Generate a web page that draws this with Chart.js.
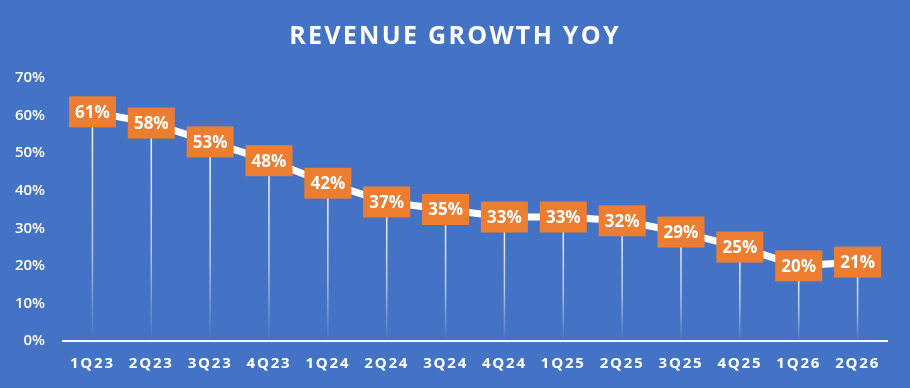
<!DOCTYPE html>
<html>
<head>
<meta charset="utf-8">
<script src="https://cdn.jsdelivr.net/npm/chart.js@4.4.1/dist/chart.umd.min.js"></script>
<style>
  html, body { margin: 0; padding: 0; background: #4472C4; }
  #wrap { width: 910px; height: 388px; }
</style>
</head>
<body>
<div id="wrap"><canvas id="chart"></canvas></div>
<script>
// quarters and yoy growth (%)
const quarters = ['1Q23', '2Q23', '3Q23', '4Q23', '1Q24', '2Q24', '3Q24', '4Q24', '1Q25', '2Q25', '3Q25', '4Q25', '1Q26', '2Q26'];
const growth = [61, 58, 53, 48, 42, 37, 35, 33, 33, 32, 29, 25, 20, 21];
const yTicks = [0, 10, 20, 30, 40, 50, 60, 70];

const BG = '#4472C4';
const ORANGE = '#ED7D31';
const FONT = "'Open Sans', sans-serif";

// fill background
const bgPlugin = {
  id: 'bg',
  beforeDraw(chart) {
    const ctx = chart.ctx;
    ctx.save();
    ctx.fillStyle = BG;
    ctx.fillRect(0, 0, chart.width, chart.height);
    ctx.restore();
  }
};

// wrap a drawing method so its text gets some letter spacing (and optional shift)
function spaced(obj, method, ctx, spacing, dx) {
  if (!obj || obj['_sp_' + method]) return;
  const orig = obj[method].bind(obj);
  obj[method] = (area) => {
    ctx.save();
    ctx.letterSpacing = spacing;
    if (dx) ctx.translate(dx, 0);
    orig(area);
    ctx.restore();
  };
  obj['_sp_' + method] = true;
}

const spacingPlugin = {
  id: 'spacing',
  afterLayout(chart) {
    // title box stops at the right padding, so nudge it back to page centre
    const shift = chart.width / 2 - (chart.titleBlock.left + chart.titleBlock.right) / 2;
    spaced(chart.titleBlock, 'draw', chart.ctx, '2.3px', shift);
    spaced(chart.scales.x, 'drawLabels', chart.ctx, '1.8px', 0);
  }
};

// fading white drop lines from each point to the axis
const dropLines = {
  id: 'dropLines',
  beforeDatasetsDraw(chart) {
    const ctx = chart.ctx;
    const meta = chart.getDatasetMeta(0);
    const y0 = chart.scales.y.getPixelForValue(0);
    ctx.save();
    meta.data.forEach(pt => {
      const g = ctx.createLinearGradient(0, pt.y, 0, y0);
      g.addColorStop(0, 'rgba(255,255,255,0.95)');
      g.addColorStop(0.6, 'rgba(255,255,255,0.6)');
      g.addColorStop(1, 'rgba(255,255,255,0)');
      ctx.strokeStyle = g;
      ctx.lineWidth = 1.5;
      ctx.beginPath();
      ctx.moveTo(pt.x, pt.y);
      ctx.lineTo(pt.x, y0);
      ctx.stroke();
    });
    ctx.restore();
  }
};

// orange value boxes
const valueBoxes = {
  id: 'valueBoxes',
  afterDatasetsDraw(chart) {
    const ctx = chart.ctx;
    const meta = chart.getDatasetMeta(0);
    ctx.save();
    ctx.font = 'bold 17px ' + FONT;
    ctx.textAlign = 'center';
    ctx.textBaseline = 'middle';
    meta.data.forEach((pt, i) => {
      const w = 47, h = 31;
      ctx.fillStyle = ORANGE;
      ctx.fillRect(pt.x - w / 2, pt.y - h / 2, w, h);
      ctx.fillStyle = '#fff';
      ctx.fillText(growth[i] + '%', pt.x, pt.y + 1);
    });
    ctx.restore();
  }
};

new Chart(document.getElementById('chart'), {
  type: 'line',
  data: {
    labels: quarters,
    datasets: [{
      data: growth,
      borderColor: '#fff',
      borderWidth: 7,
      pointRadius: 0,
      tension: 0
    }]
  },
  options: {
    responsive: true,
    maintainAspectRatio: false,
    animation: false,
    layout: { padding: { left: 0, right: 23, top: 0, bottom: 0 } },
    plugins: {
      legend: { display: false },
      tooltip: { enabled: false },
      title: {
        display: true,
        text: 'REVENUE GROWTH YOY',
        color: '#fff',
        font: { family: FONT, size: 25, weight: 'bold', lineHeight: 1.2 },
        padding: { top: 22, bottom: 26 }
      }
    },
    scales: {
      x: {
        offset: true,
        grid: { display: false, drawTicks: false },
        border: { display: true, color: '#fff', width: 2 },
        ticks: {
          color: '#fff',
          padding: 14,
          maxRotation: 0,
          font: { family: FONT, size: 15, weight: 'bold' }
        },
        afterFit(scale) { scale.height = 47; }
      },
      y: {
        min: 0,
        max: 70,
        afterBuildTicks(scale) { scale.ticks = yTicks.map(v => ({ value: v })); },
        grid: { display: false, drawTicks: false },
        border: { display: false },
        ticks: {
          color: '#fff',
          padding: 18,
          callback: v => v + '%',
          font: { family: FONT, size: 15, weight: '600' }
        },
        afterFit(scale) { scale.width = 63; }
      }
    }
  },
  plugins: [bgPlugin, spacingPlugin, dropLines, valueBoxes]
});
</script>
</body>
</html>
